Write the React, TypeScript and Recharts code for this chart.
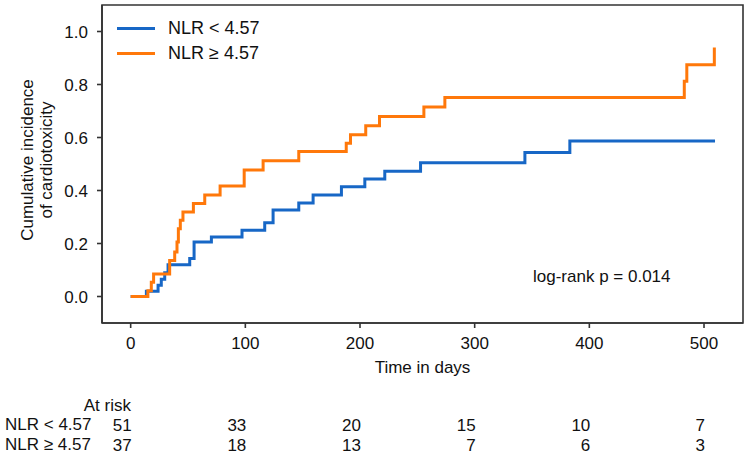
import { LineChart, Line, XAxis, YAxis, ReferenceArea } from 'recharts';

// Kaplan-Meier cumulative incidence
const lowDays = [0, 13.7, 23.9, 26.7, 29.7, 32.6, 51.5, 55.3, 70.4, 97.1, 116.9, 124.2, 146.6, 159.1, 183.8, 204.2, 221.6, 252.8, 343.8, 383, 509.6];
const lowInc = [0, 0.02, 0.042, 0.065, 0.09, 0.12, 0.143, 0.206, 0.225, 0.25, 0.278, 0.326, 0.353, 0.383, 0.414, 0.443, 0.473, 0.505, 0.543, 0.587, 0.587];

const highDays = [0, 15, 18, 20, 34, 38.4, 40.4, 41.6, 43.3, 45.6, 54.7, 64.6, 78, 99, 115.5, 146.6, 188, 191.7, 205, 217, 255.7, 274, 482.8, 485, 509];
const highInc = [0, 0.022, 0.054, 0.085, 0.136, 0.168, 0.206, 0.256, 0.288, 0.319, 0.351, 0.383, 0.417, 0.477, 0.512, 0.547, 0.578, 0.61, 0.644, 0.679, 0.715, 0.751, 0.812, 0.875, 0.94];

const xTicks = [0, 100, 200, 300, 400, 500];
const yTicks = [0, 0.2, 0.4, 0.6, 0.8, 1.0];
const riskLow = [51, 33, 20, 15, 10, 7];
const riskHigh = [37, 18, 13, 7, 6, 3];

const lowLabel = 'NLR < 4.57';
const highLabel = 'NLR \u2265 4.57';

const BLUE = '#1767c6';
const ORANGE = '#ff780a';
const AXIS = '#333';
const FONT = '"Liberation Sans", Arial, sans-serif';

const lowData = lowDays.map((d, i) => ({ day: d, inc: lowInc[i] }));
const highData = highDays.map((d, i) => ({ day: d, inc: highInc[i] }));

// x tick label plus the at-risk counts underneath, aligned on the same scale position
const XTick = (props: any) => {
  const { x, y, payload } = props;
  const i = xTicks.indexOf(payload.value);
  return (
    <g fontFamily={FONT} fontSize={17} fill="#111">
      <text x={x} y={y} dy="0.71em" textAnchor="middle">{payload.value}</text>
      <text x={x + 1} y={y + 82} dy="0.71em" textAnchor="end">{riskLow[i]}</text>
      <text x={x + 1} y={y + 102} dy="0.71em" textAnchor="end">{riskHigh[i]}</text>
    </g>
  );
};

const yLabel = () => (
  <g fontFamily={FONT} fontSize={17} fill="#111">
    <text transform="translate(27,160) rotate(-90)" textAnchor="middle" dominantBaseline="central">
      Cumulative incidence
    </text>
    <text transform="translate(46,160) rotate(-90)" textAnchor="middle" dominantBaseline="central">
      of cardiotoxicity
    </text>
  </g>
);

const txt = { position: 'absolute' as const, fontFamily: FONT, color: '#111', lineHeight: '20px', whiteSpace: 'nowrap' as const };

export default function App() {
  return (
    <div style={{ position: 'absolute', left: 0, top: 0, width: 749, height: 455, background: '#fff' }}>
      <LineChart width={749} height={455} margin={{ top: 5, right: 6, bottom: 82, left: 0 }}>
        <XAxis
          dataKey="day"
          type="number"
          domain={[-25, 534]}
          ticks={xTicks}
          allowDataOverflow
          height={50}
          stroke={AXIS}
          strokeWidth={1.6}
          tickSize={5}
          tickMargin={9}
          tick={XTick}
          label={{ value: 'Time in days', position: 'insideBottom', offset: 0, fill: '#111', fontSize: 17, fontFamily: FONT }}
        />
        <YAxis
          type="number"
          domain={[-0.1, 1.1]}
          ticks={yTicks}
          allowDataOverflow
          width={102}
          stroke={AXIS}
          strokeWidth={1.6}
          tickSize={5}
          tickMargin={9}
          tickFormatter={(v: number) => v.toFixed(1)}
          tick={{ fill: '#111', fontSize: 17, fontFamily: FONT }}
          label={{ content: yLabel }}
        />
        <ReferenceArea x1={-25} x2={534} y1={-0.1} y2={1.1} fill="none" stroke={AXIS} strokeWidth={1.6} />
        <Line data={lowData} dataKey="inc" type="stepAfter" stroke={BLUE} strokeWidth={3} dot={false} isAnimationActive={false} />
        <Line data={highData} dataKey="inc" type="stepAfter" stroke={ORANGE} strokeWidth={3} dot={false} isAnimationActive={false} />
      </LineChart>

      {/* legend */}
      <div style={{ position: 'absolute', left: 117, top: 26.5, width: 38, height: 3, background: BLUE }} />
      <div style={{ ...txt, left: 168, top: 18, fontSize: 18 }}>{lowLabel}</div>
      <div style={{ position: 'absolute', left: 117, top: 51.5, width: 38, height: 3, background: ORANGE }} />
      <div style={{ ...txt, left: 168, top: 43, fontSize: 18 }}>{highLabel}</div>

      <div style={{ ...txt, left: 533, top: 267, fontSize: 17 }}>log-rank p = 0.014</div>

      {/* at-risk table labels */}
      <div style={{ ...txt, right: 749 - 131, top: 396, fontSize: 17 }}>At risk</div>
      <div style={{ ...txt, left: 5, top: 415, fontSize: 17 }}>{lowLabel}</div>
      <div style={{ ...txt, left: 5, top: 435, fontSize: 17 }}>{highLabel}</div>
    </div>
  );
}
